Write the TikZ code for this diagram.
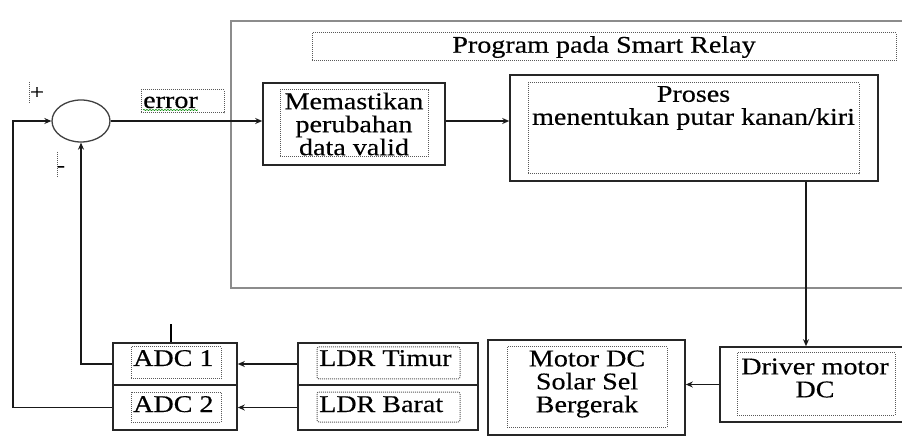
\documentclass[tikz,border=0pt]{standalone}
\usepackage{fontspec}
\setmainfont[FakeStretch=1.17,FakeBold=0.4]{Liberation Serif}
\usetikzlibrary{shapes.geometric,arrows.meta,decorations.pathmorphing}

\begin{document}
\begin{tikzpicture}[x=1pt,y=-1pt,
  every node/.style={font=\fontsize{24}{23}\selectfont,inner sep=0pt},
  blk/.style={draw=black!85,line width=1.6pt},
  frame/.style={draw=black!45,line width=1.4pt},
  dotbox/.style={draw=black!65,line width=1pt,densely dotted},
  txt/.style={align=center},
  link/.style={draw=black!90,line width=1.3pt},
  arr/.style={link,-{Stealth[length=7pt,width=6pt]}},
  sign/.style={font=\fontsize{21}{21}\selectfont}]

\useasboundingbox (0,0) rectangle (902,443);
\clip (0,0) rectangle (902,443);

% smart relay program area
\node[frame,minimum width=679,minimum height=267] (relay) at (570.5,154.5) {};
\node[dotbox,minimum width=584,minimum height=28] (title) at (604,47) {Program pada Smart Relay};

% summing junction with its signs
\node[ellipse,draw=black!75,line width=1.3pt,minimum width=58,minimum height=42] (sum) at (81,121) {};
\draw[dotbox] (29,82) -- (29,103);
\node[sign] (plus) at (37,93) {+};
\draw[dotbox] (57,152) -- (57,177);
\node[sign] (minus) at (61,169) {-};

% error label
\node[dotbox,minimum width=83,minimum height=23] (errbox) at (182.5,101.5) {};
\node[anchor=base west] (errtxt) at (143,108) {error};
\draw[green!55!black,line width=0.6pt,decorate,decoration={snake,amplitude=0.6pt,segment length=3pt}]
  ([yshift=-2pt]errtxt.base west) -- ([yshift=-2pt]errtxt.base east);

% validation block
\node[blk,minimum width=182,minimum height=82] (mem) at (354,124) {};
\node[dotbox,minimum width=148,minimum height=67] (memin) at (354,123.5) {};
\node[txt] (memtxt) at (354,124) {Memastikan\\perubahan\\data valid};

% direction decision block
\node[blk,minimum width=368,minimum height=106] (proses) at (694,128) {};
\node[dotbox,minimum width=331,minimum height=91] (prosesin) at (693.5,128.5) {};
\node[txt] (prosestxt) at (693.5,108) {Proses\\menentukan putar kanan/kiri};

% motor driver
\node[blk,minimum width=190,minimum height=75] (driver) at (815,384.5) {};
\node[dotbox,minimum width=158,minimum height=62] (driverin) at (816,384) {};
\node[txt] (drivertxt) at (815,378) {Driver motor\\DC};

% motor
\node[blk,minimum width=197,minimum height=95] (motor) at (586.5,387.5) {};
\node[dotbox,minimum width=160,minimum height=80] (motorin) at (587,387) {};
\node[txt] (motortxt) at (587,384) {Motor DC\\Solar Sel\\Bergerak};

% LDR sensors
\node[blk,minimum width=180,minimum height=42] (ldr1) at (388,364) {};
\node[blk,minimum width=180,minimum height=45] (ldr2) at (388,407.5) {};
\node[dotbox,rounded corners=2pt,minimum width=143,minimum height=32] (ldr1in) at (388.5,363) {};
\node[dotbox,rounded corners=2pt,minimum width=143,minimum height=30] (ldr2in) at (388.5,407) {};
\node[anchor=base west] (ldr1txt) at (319,366) {LDR Timur};
\node[anchor=base west] (ldr2txt) at (319,412) {LDR Barat};

% ADC channels
\node[blk,minimum width=124,minimum height=42] (adc1) at (175,364) {};
\node[blk,minimum width=124,minimum height=45] (adc2) at (175,407.5) {};
\node[dotbox,minimum width=90,minimum height=32] (adc1in) at (176,363) {};
\node[dotbox,minimum width=90,minimum height=30] (adc2in) at (176,407) {};
\node[anchor=base west] (adc1txt) at (133,366) {ADC 1};
\node[anchor=base west] (adc2txt) at (133,412) {ADC 2};

% signal flow
\coordinate (drop) at (806,0);
\coordinate (fb) at (13,0);
\coordinate (tick) at (171,0);
\draw[arr] (sum.east) -- (mem.west |- sum.east);
\draw[arr] (mem.east |- sum.east) -- (proses.west |- sum.east);
\draw[arr] (proses.south -| drop) -- (driver.north -| drop);
\draw[arr] (driver.west) -- (motor.east |- driver.west);
\draw[arr] (ldr1.west) -- (adc1.east);
\draw[arr] (ldr2.west) -- (adc2.east);
\draw[arr] (adc1.west) -| (sum.south);
\draw[arr] (adc2.west) -- (adc2.west -| fb) |- (sum.west);
\draw[line width=2.4pt] (tick |- adc1.north) -- ++(0,-18);
\end{tikzpicture}
\end{document}
